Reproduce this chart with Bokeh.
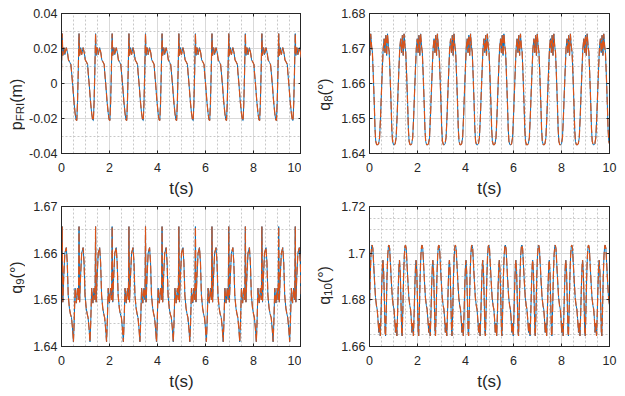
import math
from bokeh.plotting import figure
from bokeh.layouts import column, row
from bokeh.models import FixedTicker, LinearAxis, Label, CustomJSTickFormatter, Range1d
from bokeh.embed import file_html
from bokeh.resources import INLINE

# ---------------- data ----------------
X_TICKS = [0, 2, 4, 6, 8, 10]
X_MINOR = [0.5, 1, 1.5, 2.5, 3, 3.5, 4.5, 5, 5.5, 6.5, 7, 7.5, 8.5, 9, 9.5]

# times of the impact peaks (one per gait cycle)
PEAK_T = [0.03, 0.73, 1.42, 2.11, 2.81, 3.50, 4.19, 4.89, 5.58, 6.27, 6.97, 7.66, 8.35, 9.05, 9.74]

# p_FRI (m): one cycle, time offset from the impact peak and value
P_DT = [-0.313, -0.263, -0.213, -0.163, -0.123, -0.093, -0.063, -0.033, -0.013,
        0.00, 0.025, 0.07, 0.11, 0.17, 0.22, 0.26, 0.32, 0.36]
P_V = [0.0070, -0.0010, -0.0100, -0.0170, -0.0208, -0.0212, -0.0110, 0.0060, 0.0200,
       0.0285, 0.0160, 0.0205, 0.0165, 0.0205, 0.0175, 0.0135, 0.0120, 0.0108]
P_YTICKS = [-0.04, -0.02, 0, 0.02, 0.04]
P_YMINOR = [-0.03, -0.01, 0.01, 0.03]

# q8
Q8_DT = [-0.35, -0.31, -0.27, -0.23, -0.19, -0.16, -0.12, -0.085, -0.05, -0.015,
         0.02, 0.06, 0.09, 0.13, 0.17, 0.20, 0.23, 0.27, 0.31]
Q8_V = [1.6428, 1.6445, 1.6505, 1.6580, 1.6650, 1.6700, 1.6728, 1.6688, 1.6738, 1.6680,
        1.6742, 1.6705, 1.6690, 1.6620, 1.6540, 1.6470, 1.6435, 1.6425, 1.6425]
Q8_YTICKS = [1.64, 1.65, 1.66, 1.67, 1.68]
Q8_YMINOR = [1.645, 1.655, 1.665, 1.675]

# q9
Q9_DT = [-0.313, -0.273, -0.233, -0.203, -0.163, -0.113, -0.063, -0.023,
         0.00, 0.025, 0.06, 0.11, 0.17, 0.21, 0.25, 0.30, 0.34]
Q9_V = [1.6462, 1.6440, 1.6410, 1.6450, 1.6525, 1.6493, 1.6525, 1.6500,
        1.6657, 1.6495, 1.6545, 1.6600, 1.6612, 1.6580, 1.6510, 1.6482, 1.6470]
Q9_YTICKS = [1.64, 1.65, 1.66, 1.67]
Q9_YMINOR = [1.645, 1.655, 1.665]

# q10
Q10_DT = [-0.34, -0.31, -0.28, -0.25, -0.22, -0.19, -0.17, -0.14, -0.11, -0.08, -0.06, -0.03,
          0.00, 0.03, 0.06, 0.08, 0.11, 0.14, 0.18, 0.22, 0.26, 0.29, 0.32]
Q10_V = [1.6660, 1.6700, 1.6645, 1.6740, 1.6860, 1.6950, 1.6970, 1.6920, 1.6800, 1.6660, 1.6645, 1.6760,
         1.6900, 1.6990, 1.7030, 1.7035, 1.7020, 1.6960, 1.6880, 1.6810, 1.6775, 1.6760, 1.6720]
Q10_YTICKS = [1.66, 1.68, 1.70, 1.72]
Q10_YMINOR = [1.665, 1.67, 1.675, 1.685, 1.69, 1.695, 1.705, 1.71, 1.715]

# ---------------- style ----------------
BLUE = "#0072BD"
ORANGE = "#D95319"
AX = "#262626"
FONT = "Liberation Sans"
FW, FH = 240, 140

W = {'p': 0.556, 'q': 0.556, 'F': 0.611, 'R': 0.722, 'I': 0.278, '(': 0.333, ')': 0.333,
     'm': 0.833, '°': 0.4, '0': 0.556, '1': 0.556, '8': 0.556, '9': 0.556}


def tw(s, fs):
    return sum(W.get(c, 0.556) for c in s) * fs


def series(dts, vals):
    t, v = [], []
    for tk in PEAK_T:
        for dt, val in zip(dts, vals):
            t.append(tk + dt)
            v.append(val)
    return t, v


fmt = CustomJSTickFormatter(code="return Number(tick.toFixed(4)).toString();")
blank = CustomJSTickFormatter(code="return '';")


def make_panel(dts, vals, yr, yticks, yminor, bl, bt, bb, br):
    p = figure(frame_width=FW, frame_height=FH, output_backend="svg", toolbar_location=None,
               x_range=Range1d(0, 10), y_range=Range1d(*yr),
               min_border_left=bl, min_border_right=br, min_border_top=bt, min_border_bottom=bb)
    p.background_fill_color = "white"
    p.border_fill_color = "white"
    p.outline_line_color = AX
    p.outline_line_width = 1
    xt = FixedTicker(ticks=X_TICKS, minor_ticks=X_MINOR)
    yt = FixedTicker(ticks=yticks, minor_ticks=yminor)
    p.xaxis.ticker = xt
    p.yaxis.ticker = yt
    p.xaxis.formatter = fmt
    p.yaxis.formatter = fmt
    for ax in [p.xaxis[0], p.yaxis[0]]:
        ax.major_tick_in = 3
        ax.major_tick_out = 0
        ax.minor_tick_in = 0
        ax.minor_tick_out = 0
        ax.minor_tick_line_color = None
        ax.axis_line_color = AX
        ax.major_tick_line_color = AX
        ax.major_label_text_font = FONT
        ax.major_label_text_font_size = "12.5px"
        ax.major_label_text_color = AX
    p.xaxis.major_label_standoff = 9
    p.yaxis.major_label_standoff = 4
    p.xaxis.axis_label = "t(s)"
    p.xaxis.axis_label_text_font = FONT
    p.xaxis.axis_label_text_font_size = "17px"
    p.xaxis.axis_label_text_font_style = "normal"
    p.xaxis.axis_label_text_color = AX
    p.xaxis.axis_label_standoff = 4
    # mirrored ticks on top and right (no labels)
    for tk, side in [(xt, "above"), (yt, "right")]:
        ax = LinearAxis(ticker=tk, formatter=blank, major_label_text_font_size="1px",
                        major_label_text_color=None, major_tick_in=3, major_tick_out=0,
                        minor_tick_in=0, minor_tick_out=0,
                        minor_tick_line_color=None, axis_line_color=AX, major_tick_line_color=AX,
                        major_label_standoff=0)
        p.add_layout(ax, side)
    for g in [p.xgrid[0], p.ygrid[0]]:
        g.grid_line_color = "#d9d9d9"
        g.grid_line_width = 1
        g.minor_grid_line_color = "#c8c8c8"
        g.minor_grid_line_dash = "2 2"
    t, v = series(dts, vals)
    p.line(t, v, line_color=BLUE, line_width=1)
    p.line(t, v, line_color=ORANGE, line_width=1.2, line_dash="8 3")
    return p


def label_fig(width, height, center_from_bottom, baseline_x, lab, sub, tail):
    """narrow figure that carries the rotated y label with its subscript"""
    f = figure(frame_width=width, frame_height=height, output_backend="svg", toolbar_location=None,
               x_range=Range1d(0, width), y_range=Range1d(0, height),
               x_axis_type=None, y_axis_type=None, min_border=0,
               min_border_left=0, min_border_right=0, min_border_top=0, min_border_bottom=0)
    f.outline_line_color = None
    f.background_fill_color = "white"
    f.border_fill_color = "white"
    F, FS = 16, 11.5
    total = tw(lab, F) + tw(sub, FS) + tw(tail, F)
    y0 = center_from_bottom - total / 2
    parts = [(lab, F, 0, y0), (sub, FS, 3.5, y0 + tw(lab, F)), (tail, F, 0, y0 + tw(lab, F) + tw(sub, FS))]
    for text, size, dx, y in parts:
        f.add_layout(Label(x=baseline_x + dx, y=y, text=text, angle=math.pi / 2,
                           text_font=FONT, text_font_size=f"{size}px",
                           text_baseline="alphabetic", text_align="left", text_color=AX))
    return f


H1 = 13 + FH + 48
H2 = 5 + FH + 44

p1 = make_panel(P_DT, P_V, (-0.04, 0.04), P_YTICKS, P_YMINOR, 36, 13, 48, 0)
p2 = make_panel(Q8_DT, Q8_V, (1.64, 1.68), Q8_YTICKS, Q8_YMINOR, 34, 13, 48, 10)
p3 = make_panel(Q9_DT, Q9_V, (1.64, 1.67), Q9_YTICKS, Q9_YMINOR, 36, 5, 44, 0)
p4 = make_panel(Q10_DT, Q10_V, (1.66, 1.72), Q10_YTICKS, Q10_YMINOR, 34, 5, 44, 10)

l1 = label_fig(25, H1, H1 - 13 - FH / 2 - 8, 16, "p", "FRI", "(m)")
l2 = label_fig(34, H1, H1 - 13 - FH / 2 + 2, 23, "q", "8", "(°)")
l3 = label_fig(25, H2, H2 - 5 - FH / 2 + 4, 16, "q", "9", "(°)")
l4 = label_fig(34, H2, H2 - 5 - FH / 2 - 4, 23, "q", "10", "(°)")

layout = column(row(l1, p1, l2, p2, spacing=0), row(l3, p3, l4, p4, spacing=0), spacing=0)
open("out.html", "w").write(file_html(layout, INLINE))
